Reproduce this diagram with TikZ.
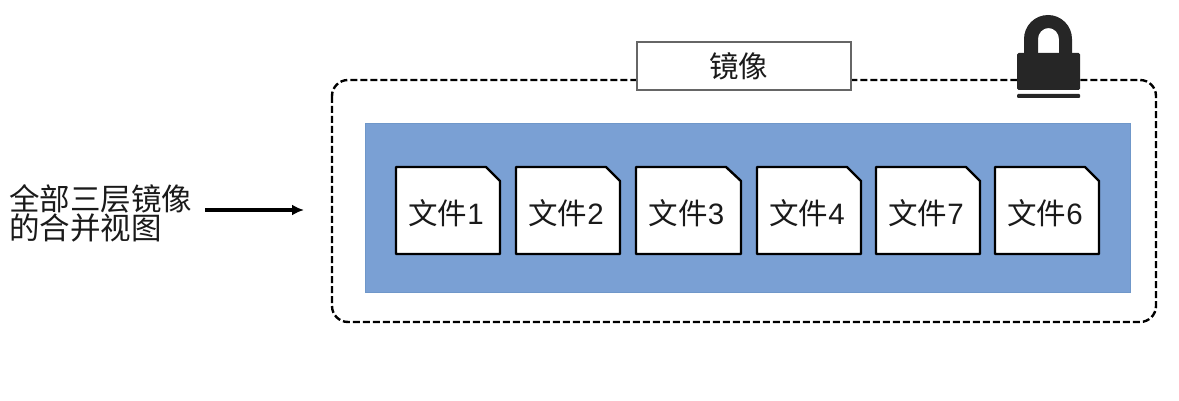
\documentclass[tikz,border=0pt]{standalone}
\usepackage{fontspec}
\setmainfont{Noto Sans CJK SC}
\newfontfamily\latinf{Liberation Sans}
\usetikzlibrary{arrows.meta}
\definecolor{panelblue}{HTML}{7AA0D4}
\definecolor{panelline}{HTML}{6F97C9}
\definecolor{lockdark}{HTML}{262626}
\definecolor{tagline}{HTML}{666666}
\definecolor{inkdark}{HTML}{1A1A1A}
\tikzset{
  filecut/.style={draw=black,fill=white,line width=2.4pt,line join=round},
  tagbox/.style={draw=tagline,fill=white,line width=2pt,text=inkdark,font=\fontsize{29.5}{30}\selectfont,
    minimum width=214pt,minimum height=48pt,inner sep=0pt},
  outerbox/.style={draw=black,line width=2.4pt,dash pattern=on 7pt off 3pt,rounded corners=16pt},
  panel/.style={draw=panelline,fill=panelblue,line width=1pt},
  sidelabel/.style={text=inkdark,font=\fontsize{30.5}{30}\selectfont,align=left,inner sep=0pt},
  flowarrow/.style={draw=black,line width=3.6pt,-{Latex[length=12pt,width=11pt]}},
  lockfill/.style={fill=lockdark,draw=none}
}
\newcommand{\filedoc}[3]{%
  \draw[filecut] (#1,-167) -- (#1+90,-167) -- (#1+#2,-181) -- (#1+#2,-254) -- (#1,-254) -- cycle;
  \node[text=inkdark,font=\fontsize{29.5}{30}\selectfont,inner sep=0pt] (f#3) at (#1+#2/2-2,-213.5) {文件{\latinf #3}};
}
\begin{document}
\begin{tikzpicture}[x=1pt,y=1pt]
\useasboundingbox (0,0) rectangle (1179,-401);
\draw[outerbox] (332,-80) rectangle (1156,-322);
\draw[panel] (365,-124) rectangle (1130,-292);
\filedoc{396}{104}{1}
\filedoc{516}{104}{2}
\filedoc{636}{105}{3}
\filedoc{757}{104}{4}
\filedoc{876}{104}{7}
\filedoc{995}{104}{6}
\node[tagbox] (tag) at (743.5,-66.5) {\hspace*{-10pt}镜像};
% lock
\fill[lockfill,even odd rule]
  (1024,-56) -- (1024,-39) arc[start angle=180,end angle=0,x radius=24,y radius=24] -- (1072,-56) -- cycle
  (1038,-56) -- (1038,-39) arc[start angle=180,end angle=0,x radius=10.5,y radius=11] -- (1059,-56) -- cycle;
\fill[lockfill,rounded corners=1.5pt] (1017,-53) rectangle (1080,-90);
\fill[lockfill,rounded corners=1pt] (1017,-94) rectangle (1080,-98);
% left label
\node[sidelabel,anchor=west] (lab) at (9,-213) {全部三层镜像\\[-1pt]的合并视图};
\coordinate (arrowstart) at (205,-210);
\coordinate (arrowend) at (304,-210);
\draw[flowarrow] (arrowstart) -- (arrowend);
\end{tikzpicture}
\end{document}
